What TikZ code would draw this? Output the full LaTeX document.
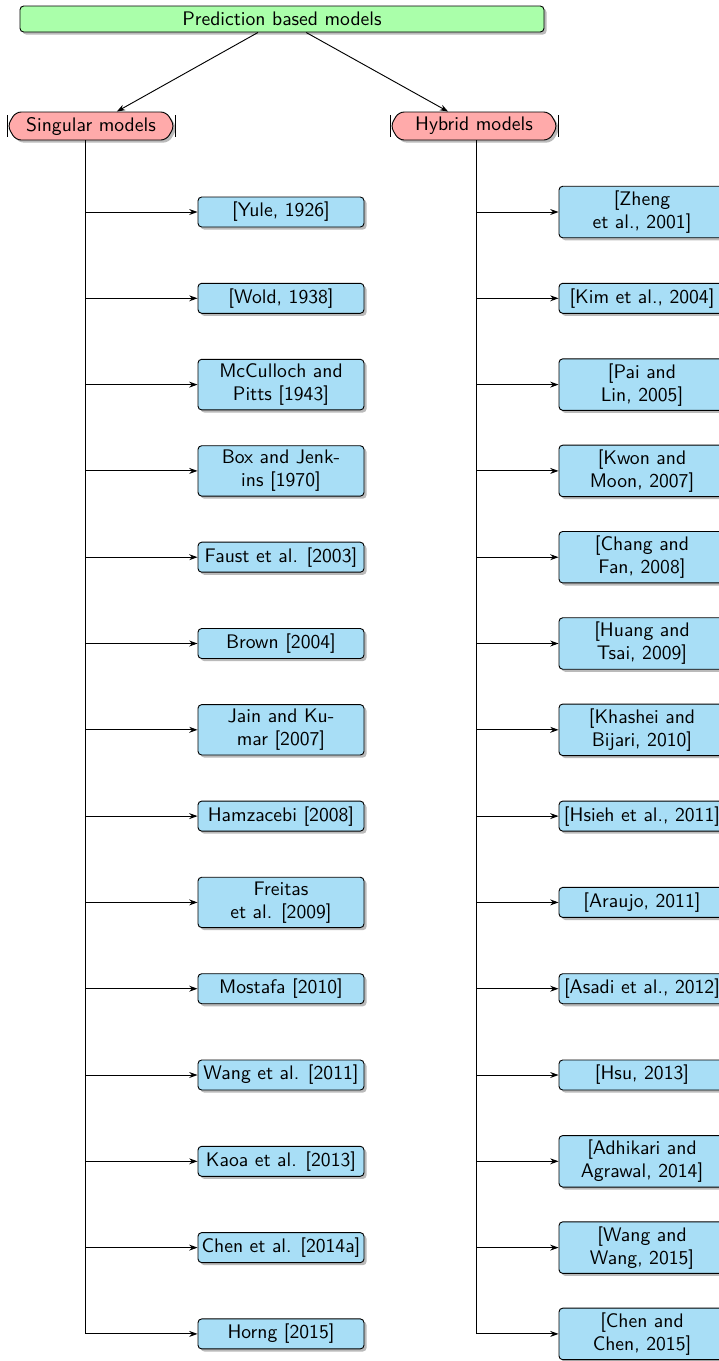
\documentclass[tikz,border=0pt]{standalone}
\usetikzlibrary{shapes.symbols,shadows,arrows.meta}
\definecolor{topgreen}{RGB}{170,255,170}
\definecolor{midred}{RGB}{255,170,170}
\definecolor{leafblue}{RGB}{168,222,246}
\begin{document}
\begin{tikzpicture}[x=0.54pt,y=-0.54pt,font=\sffamily\fontsize{10.6}{12.4}\selectfont,line width=0.5pt,
  myshadow/.style={drop shadow={shadow xshift=1.4pt,shadow yshift=-1.4pt,fill=black!45,opacity=0.6}},
  topbox/.style={draw,rounded corners=2pt,fill=topgreen,minimum width={524*0.54pt},minimum height={26*0.54pt},inner sep=0pt,myshadow},
  midbox/.style={draw,signal,signal to=east and west,signal pointer angle=120,rounded corners=3pt,fill=midred,minimum width={167*0.54pt},minimum height={28*0.54pt},inner sep=1pt,myshadow},
  leaf/.style={draw,rounded corners=2pt,fill=leafblue,minimum width={166*0.54pt},minimum height={30*0.54pt},inner xsep=1pt,inner ysep=2.4pt,align=center,myshadow},
  arr/.style={-{Stealth[length=4.5pt,width=3.2pt]}}]
\clip (0,0) rectangle (719,1361);
\node[topbox] (top) at (282,19) {Prediction based models};
\node[midbox] (sing) at (91,126) {Singular models};
\node[midbox] (hyb) at (474,126) {Hybrid models};
\draw (sing.west) ++(0,-11) -- ++(0,22);
\draw (sing.east) ++(0,-11) -- ++(0,22);
\draw (hyb.west) ++(0,-11) -- ++(0,22);
\draw (hyb.east) ++(0,-11) -- ++(0,22);
\draw[arr] (top) -- (sing);
\draw[arr] (top) -- (hyb);
\foreach \t [count=\i] in {{[Yule, 1926]},{[Wold, 1938]},{McCulloch and\\Pitts [1943]},{Box and Jenk-\\ins [1970]},{Faust et al. [2003]},{Brown [2004]},{Jain and Ku-\\mar [2007]},{Hamzacebi [2008]},{Freitas\\et al. [2009]},{Mostafa [2010]},{Wang et al. [2011]},{Kaoa et al. [2013]},{Chen et al. [2014a]},{Horng [2015]}}{
  \node[leaf] (l\i) at (281,{212+86.3*(\i-1)}) {\t};
  \draw[arr] ([xshift=-3.24pt]sing.south) |- (l\i.west);
}
\foreach \t [count=\i] in {{[Zheng\\et al., 2001]},{[Kim et al., 2004]},{[Pai and\\Lin, 2005]},{[Kwon and\\Moon, 2007]},{[Chang and\\Fan, 2008]},{[Huang and\\Tsai, 2009]},{[Khashei and\\Bijari, 2010]},{[Hsieh et al., 2011]},{[Araujo, 2011]},{[Asadi et al., 2012]},{[Hsu, 2013]},{[Adhikari and\\Agrawal, 2014]},{[Wang and\\Wang, 2015]},{[Chen and\\Chen, 2015]}}{
  \node[leaf] (r\i) at (642,{212+86.3*(\i-1)}) {\t};
  \draw[arr] ([xshift=1.08pt]hyb.south) |- (r\i.west);
}
\end{tikzpicture}
\end{document}
